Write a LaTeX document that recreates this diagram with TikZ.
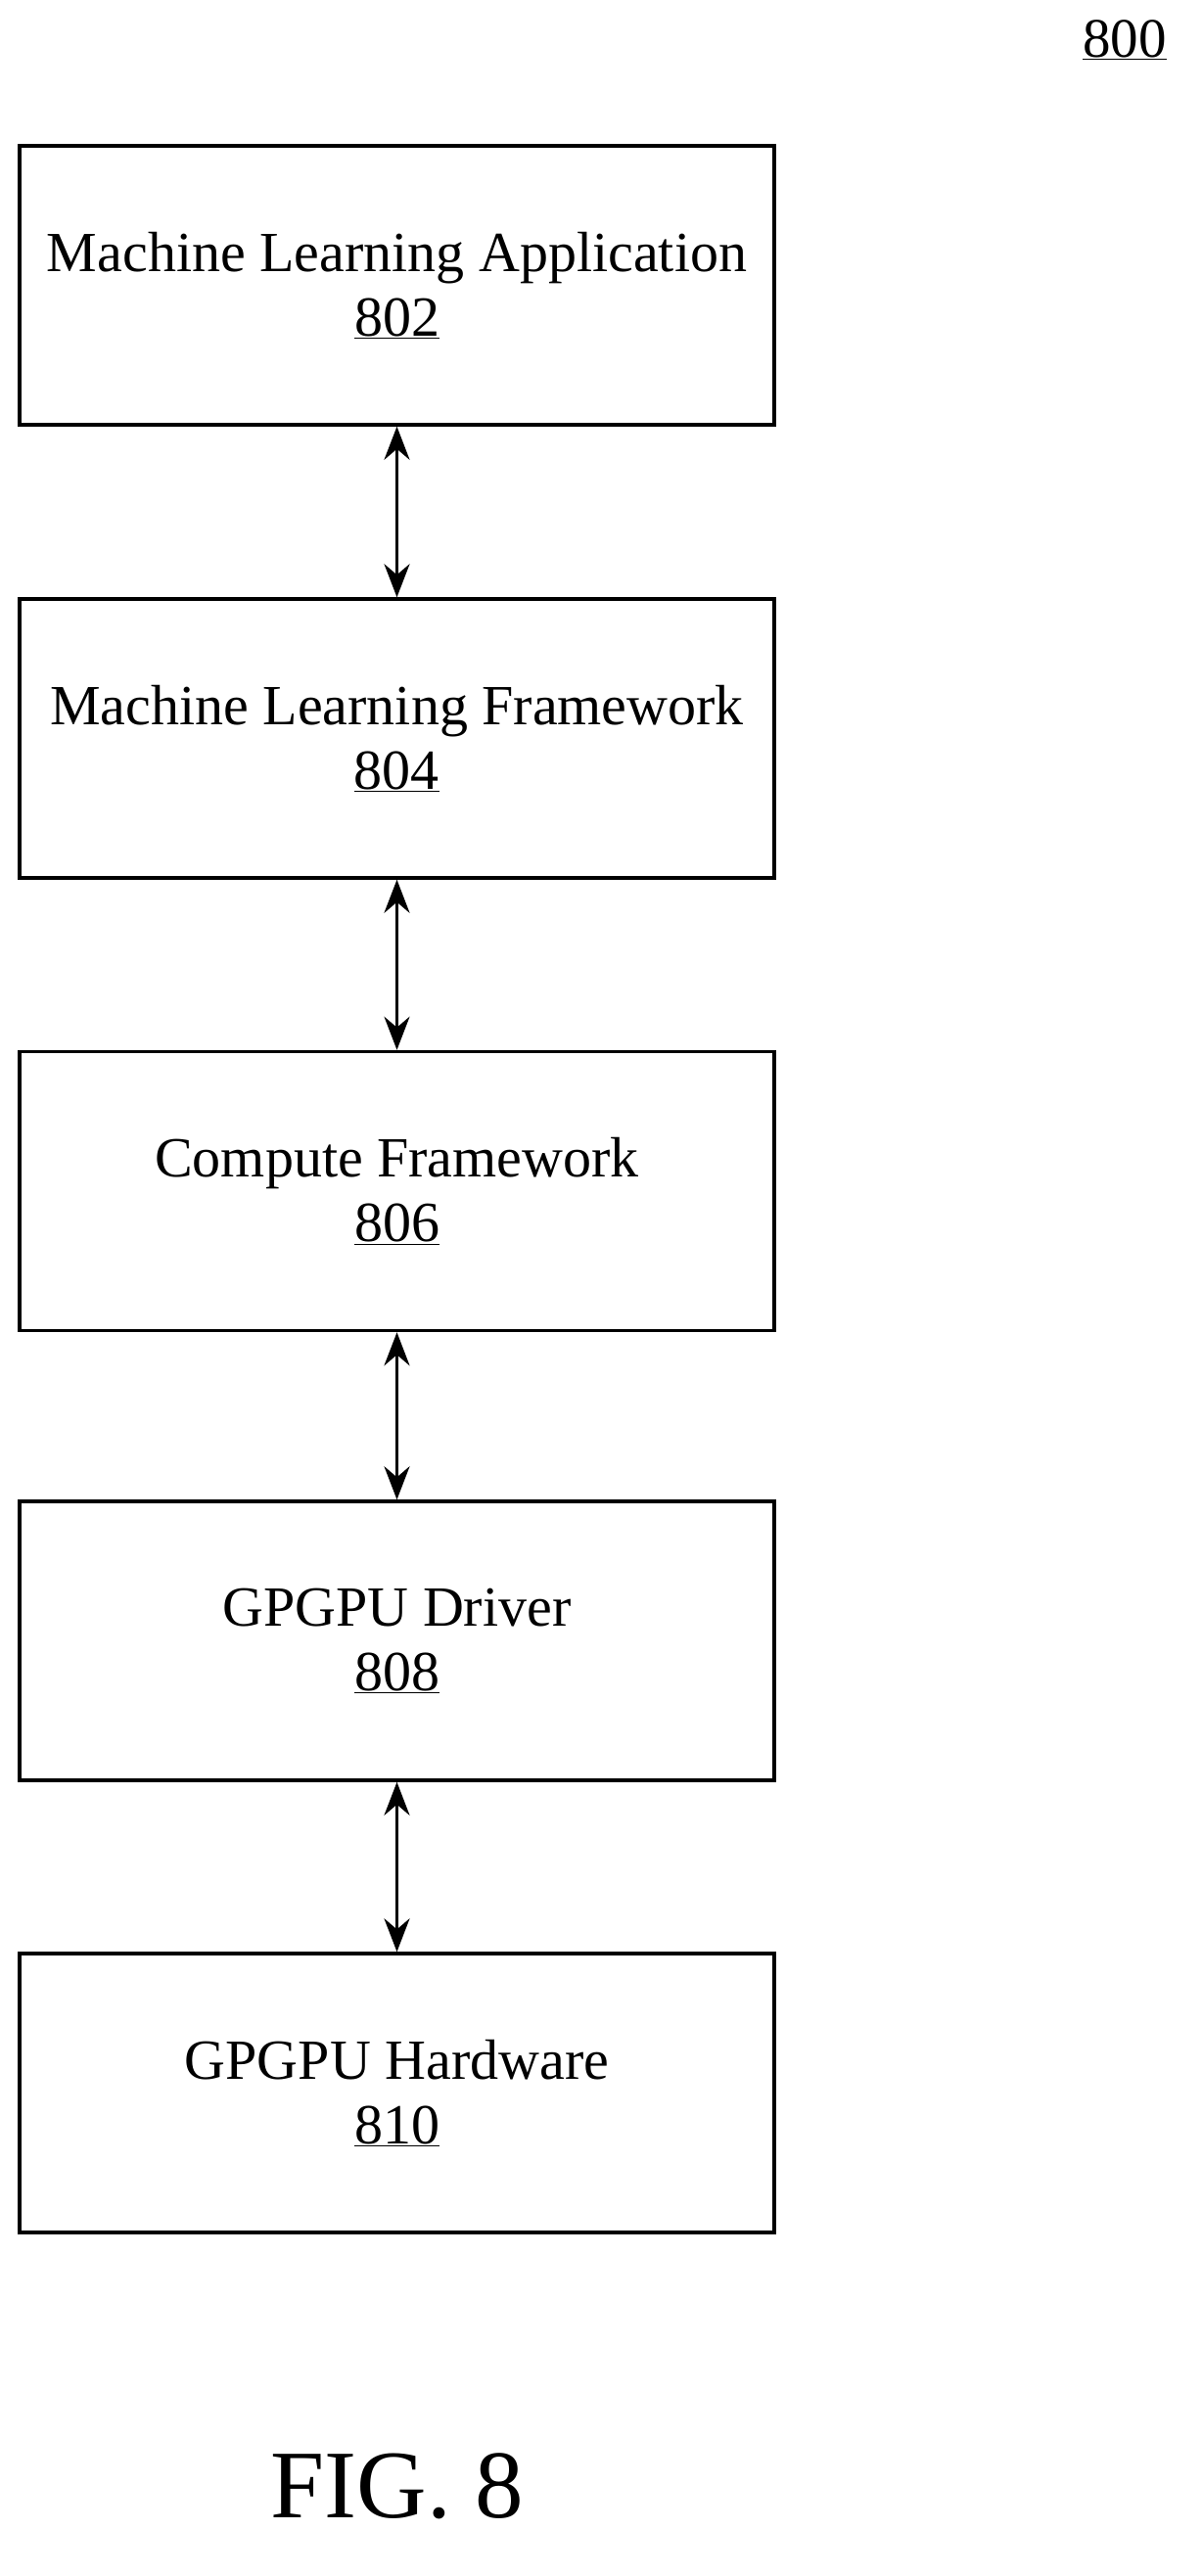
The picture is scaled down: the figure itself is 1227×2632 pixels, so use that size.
\documentclass[tikz,border=0pt]{standalone}
\usepackage{fontspec}
\setmainfont{Liberation Serif}
\usetikzlibrary{arrows.meta}
\begin{document}
\begin{tikzpicture}[x=1pt,y=-1pt,
  box/.style={draw,line width=3.5pt,minimum width=771pt,minimum height=285pt,align=center,font=\fontsize{58}{66}\selectfont},
  conn/.style={line width=3.5pt,{Stealth[length=34pt,width=26pt]}-{Stealth[length=34pt,width=26pt]}}]
\useasboundingbox (0,0) rectangle (1227,2632);
\node[box] (a) at (405.5,291.5) {Machine Learning Application\\\underline{802}};
\node[box] (b) at (405.5,754.5) {Machine Learning Framework\\\underline{804}};
\node[box] (c) at (405.5,1217) {Compute Framework\\\underline{806}};
\node[box] (d) at (405.5,1676.5) {GPGPU Driver\\\underline{808}};
\node[box] (e) at (405.5,2138.5) {GPGPU Hardware\\\underline{810}};
\draw[conn] (a) -- (b);
\draw[conn] (b) -- (c);
\draw[conn] (c) -- (d);
\draw[conn] (d) -- (e);
\node[font=\fontsize{57}{60}\selectfont] (n) at (1149,41) {\underline{800}};
\node[font=\fontsize{99}{105}\selectfont] (f) at (406,2540) {FIG. 8};
\end{tikzpicture}
\end{document}
